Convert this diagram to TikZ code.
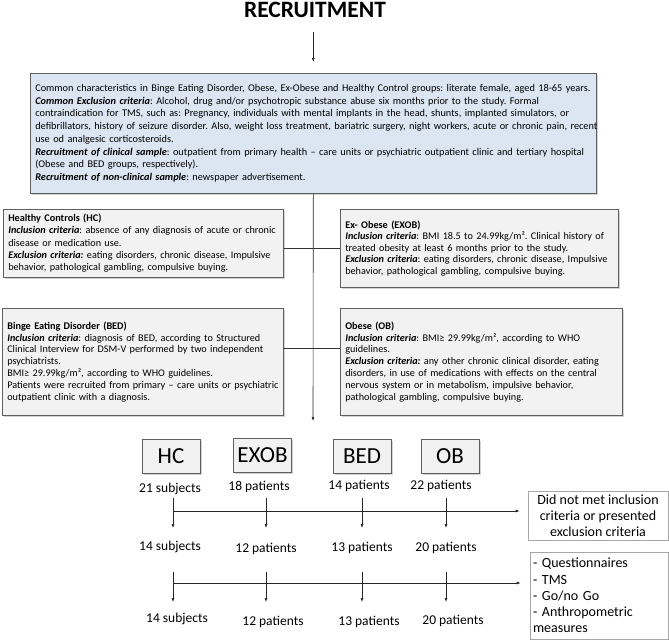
\documentclass[tikz,border=0pt]{standalone}
\usepackage{fontspec}
\setmainfont{Carlito}
\usetikzlibrary{arrows.meta,shadows,calc}
\definecolor{lblue}{HTML}{DCE6F2}
\definecolor{lgray}{HTML}{F2F2F2}
\definecolor{bordc}{HTML}{5F5F5F}
\definecolor{lbord}{HTML}{A6A6A6}
\newcommand\jl[1]{\makebox[\linewidth][s]{#1}\par}
\newcommand\lline[1]{\makebox[\linewidth][l]{#1}\par}
\newcommand\bxi[1]{\textbf{\textit{#1}}}
\frenchspacing
\tikzset{
  arr/.style={-{Latex[length=4pt,width=3pt]},line width=0.6pt,draw=black!85},
  conn/.style={line width=0.6pt,draw=black!80},
  shad/.style={drop shadow={opacity=0.35,shadow xshift=1.5pt,shadow yshift=-1.5pt}},
  bluebox/.style={draw=bordc,fill=lblue,line width=0.6pt,shad,anchor=north west,inner xsep=5pt,inner ysep=0pt,
    font=\fontsize{10.3}{12.75}\selectfont},
  graybox/.style={draw=bordc,fill=lgray,line width=0.6pt,shad,anchor=north west,inner xsep=5pt,inner ysep=0pt,
    font=\fontsize{10.2}{12.3}\selectfont},
  grpbox/.style={draw=bordc,fill=lgray,line width=0.6pt,shad,minimum width=58pt,minimum height=34pt,inner sep=0pt,
    font=\fontsize{23}{26}\selectfont},
  cnt/.style={inner sep=0pt,font=\fontsize{13.5}{15}\selectfont},
  sidebox/.style={draw=lbord,fill=white,line width=0.6pt,inner sep=0pt,font=\fontsize{14}{16.2}\selectfont}
}
\begin{document}
\begin{tikzpicture}[x=1pt,y=-1pt]
\useasboundingbox (0,0) rectangle (669,643);

\node[anchor=base,inner sep=0pt,font=\fontsize{23.5}{28}\selectfont\bfseries] (title) at (315,17.5) {RECRUITMENT};

\node[bluebox,text width=556pt,minimum height=120pt] (top) at (30,73) {%
\lline{Common characteristics in Binge Eating Disorder, Obese, Ex-Obese and Healthy Control groups: literate female, aged 18-65 years.}
\jl{\bxi{Common Exclusion criteria}: Alcohol, drug and/or psychotropic substance abuse six months prior to the study. Formal}
\jl{contraindication for TMS, such as: Pregnancy, individuals with mental implants in the head, shunts, implanted simulators, or}
\jl{defibrillators, history of seizure disorder. Also, weight loss treatment, bariatric surgery, night workers, acute or chronic pain, recent}
\lline{use od analgesic corticosteroids.}
\jl{\bxi{Recruitment of clinical sample}: outpatient from primary health -- care units or psychiatric outpatient clinic and tertiary hospital}
\lline{(Obese and BED groups, respectively).}
\lline{\bxi{Recruitment of non-clinical sample}: newspaper advertisement.}
\vspace*{8pt}};

\node[graybox,text width=270pt,minimum height=68pt] (hc) at (3,209) {%
\lline{\textbf{Healthy Controls (HC)}}
\lline{\bxi{Inclusion criteria}: absence of any diagnosis of acute or chronic}
\lline{disease or medication use.}
\lline{\bxi{Exclusion criteria:} eating disorders, chronic disease, Impulsive}
\lline{behavior, pathological gambling, compulsive buying.}
\vspace*{3pt}};

\node[graybox,text width=268pt,minimum height=78pt,font=\fontsize{10.2}{11.6}\selectfont] (exob) at (340,209) {%
\lline{\textbf{Ex- Obese (EXOB)}}
\lline{\bxi{Inclusion criteria}: BMI 18.5 to 24.99kg/m². Clinical history of}
\lline{treated obesity at least 6 months prior to the study.}
\lline{\bxi{Exclusion criteria}: eating disorders, chronic disease, Impulsive}
\lline{behavior, pathological gambling, compulsive buying.}
\vspace*{12pt}};

\node[graybox,text width=271pt,minimum height=107pt,font=\fontsize{10.2}{11.8}\selectfont] (bed) at (2,308) {%
\lline{\textbf{Binge Eating Disorder (BED)}}
\jl{\bxi{Inclusion criteria}: diagnosis of BED, according to Structured}
\jl{Clinical Interview for DSM-V performed by two independent}
\lline{psychiatrists.}
\lline{BMI≥ 29.99kg/m², according to WHO guidelines.}
\jl{Patients were recruited from primary -- care units or psychiatric}
\lline{outpatient clinic with a diagnosis.}
\vspace*{12pt}};

\node[graybox,text width=272pt,minimum height=107pt,font=\fontsize{10.2}{11.8}\selectfont] (ob) at (340,308) {%
\lline{\textbf{Obese (OB)}}
\jl{\bxi{Inclusion criteria}: BMI≥ 29.99kg/m², according to WHO}
\lline{guidelines.}
\jl{\bxi{Exclusion criteria:} any other chronic clinical disorder, eating}
\jl{disorders, in use of medications with effects on the central}
\jl{nervous system or in metabolism, impulsive behavior,}
\lline{pathological gambling, compulsive buying.}
\vspace*{12pt}};

% connectors upper part
\draw[arr,shorten <=14.5pt,shorten >=11pt] (top.north |- title.south) -- (top.north);
\coordinate (vend) at (313,421);
\draw[arr] (top.south) -- (vend);
\coordinate (j1) at (313,248);
\draw[conn] (hc.east |- j1) -- (exob.west |- j1);
\coordinate (j2) at (313,348);
\draw[conn] (bed.east |- j2) -- (ob.west |- j2);

% group boxes
\node[grpbox] (shc) at (171,456) {HC};
\node[grpbox] (sexob) at (262.5,455) {EXOB};
\node[grpbox] (sbed) at (362,456) {BED};
\node[grpbox] (sob) at (450,456) {OB};

% counts
\node[cnt] (r1a) at (170,489) {21 subjects};
\node[cnt] (r1b) at (259,487) {18 patients};
\node[cnt] (r1c) at (359,486) {14 patients};
\node[cnt] (r1d) at (441,486) {22 patients};
\node[cnt] (r2a) at (170,547) {14 subjects};
\node[cnt] (r2b) at (266,549) {12 patients};
\node[cnt] (r2c) at (362,548) {13 patients};
\node[cnt] (r2d) at (446,548) {20 patients};
\node[cnt] (r3a) at (177,619) {14 subjects};
\node[cnt] (r3b) at (273,622) {12 patients};
\node[cnt] (r3c) at (369,622) {13 patients};
\node[cnt] (r3d) at (453,621) {20 patients};

% side boxes
\node[sidebox,minimum width=140pt,minimum height=49pt,align=center] (dnm) at (598,515.5)
  {Did not met inclusion\\criteria or presented\\exclusion criteria};
\node[sidebox,minimum width=138pt,minimum height=87pt,align=left,text width=132pt] (meas) at (599,595.5)
  {- Questionnaires\\- TMS\\- Go/no Go\\- Anthropometric\\measures};

% vertical arrows
\foreach \n/\x in {a/173,b/266,c/362,d/446}{
  \coordinate (u\n) at (\x,498);
  \coordinate (w\n) at (\x,528);
  \coordinate (p\n) at (\x,572);
  \coordinate (q\n) at (\x,602);
  \draw[arr] (u\n) -- (w\n);
  \draw[arr] (p\n) -- (q\n);
}
\coordinate (h1) at (173,511);
\draw[arr,shorten >=8pt] (h1) -- (dnm.west |- h1);
\coordinate (h2) at (173,583);
\draw[arr,shorten >=9pt] (h2) -- (meas.west |- h2);
\end{tikzpicture}
\end{document}
